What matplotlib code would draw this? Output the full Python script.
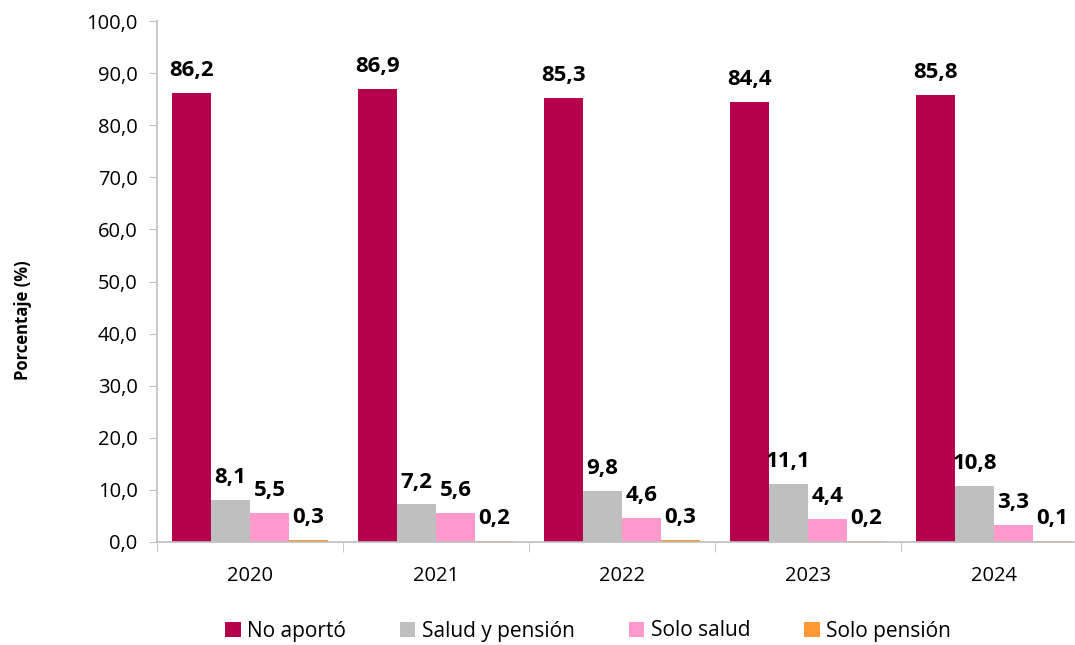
import numpy as np
import matplotlib.pyplot as plt

plt.rcParams['font.family'] = ['Open Sans', 'DejaVu Sans']

anios = ['2020', '2021', '2022', '2023', '2024']
series = ['No aportó', 'Salud y pensión', 'Solo salud', 'Solo pensión']
no_aporto = [86.2, 86.9, 85.3, 84.4, 85.8]
salud_pension = [8.1, 7.2, 9.8, 11.1, 10.8]
solo_salud = [5.5, 5.6, 4.6, 4.4, 3.3]
solo_pension = [0.3, 0.2, 0.3, 0.2, 0.1]
colores = ['#B5004B', '#BFBFBF', '#FF99CC', '#FF9933']

valores = [no_aporto, salud_pension, solo_salud, solo_pension]

def fmt(v):
    return f'{v:.1f}'.replace('.', ',')

fig = plt.figure(figsize=(10.75, 6.45), dpi=100)
ax = fig.add_axes([157/1075, 1 - 542/645, 930/1075, 521/645])

x = np.arange(len(anios))
w = 0.21
for i, (nombre, vals) in enumerate(zip(series, valores)):
    pos = x + (i - 1.5) * w
    ax.bar(pos, vals, w, color=colores[i], label=nombre, zorder=2)
    for p, v in zip(pos, vals):
        ax.text(p, v + 2.3, fmt(v), ha='center', va='bottom',
                fontsize=16, fontweight='bold', color='black')

ax.set_xlim(-0.5, len(anios) - 0.5)
ax.set_ylim(0, 100)
ax.set_yticks(np.arange(0, 101, 10))
ax.set_yticklabels([fmt(t) for t in np.arange(0, 101, 10)], fontsize=14.5)
ax.set_xticks(x)
ax.set_xticklabels(anios, fontsize=14.5)
ax.set_xticks(np.arange(-0.5, len(anios), 1), minor=True)
ax.tick_params(axis='x', which='major', length=0, pad=17)
ax.tick_params(axis='x', which='minor', length=7, color='#BFBFBF')
ax.tick_params(axis='y', length=6, color='#BFBFBF', pad=8)

for s in ['top', 'right']:
    ax.spines[s].set_visible(False)
for s in ['left', 'bottom']:
    ax.spines[s].set_color('#BFBFBF')
    ax.spines[s].set_linewidth(1.2)

fig.text(23/1075, 1 - 320/645, 'Porcentaje (%)', rotation=90, ha='center', va='center',
         fontsize=12, fontweight='bold')

ax.legend(loc='center', bbox_to_anchor=(588/1075, 1 - 631/645), bbox_transform=fig.transFigure,
          ncol=4, frameon=False, fontsize=15, handlelength=0.75, handleheight=0.75,
          handletextpad=0.3, columnspacing=2.6)

fig.savefig('out.png', dpi=100)
